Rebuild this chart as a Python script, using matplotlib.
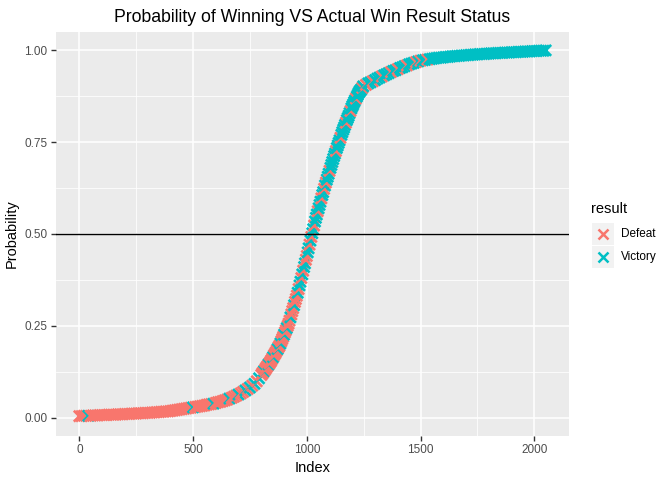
import numpy as np
import matplotlib
matplotlib.use("Agg")
import matplotlib.pyplot as plt
from matplotlib.patches import Rectangle
from matplotlib.lines import Line2D

# Probability of winning, sorted in three stretches
# (flat bottom, steep middle, flat top). Index positions for each stretch.
low_index = np.arange(0, 810, 10)
low_prob = [
    .004, .004, .005, .005, .005, .005, .006, .006, .006, .007,
    .007, .007, .007, .008, .008, .008, .008, .009, .009, .009,
    .010, .010, .010, .011, .011, .011, .012, .012, .012, .013,
    .013, .013, .014, .014, .015, .015, .016, .016, .017, .017,
    .018, .019, .020, .021, .022, .023, .024, .025, .026, .027,
    .028, .029, .030, .031, .032, .033, .035, .036, .037, .038,
    .040, .042, .043, .045, .047, .049, .052, .054, .057, .060,
    .063, .066, .070, .074, .078, .082, .087, .092, .099, .107,
    .116,
]
low_result = ("DDDDVDDDDD" "DDDDDDDDDD" "DDDDDDDDDD" "DDDDDDDDDD" "DDDDDDDDDD"
              "VDDDDDDDDV" "DDDDDDVDDD" "VDDVDVDVDV" "D")

mid_index = np.arange(804, 1252, 4)
mid_prob = [
    .120, .123, .127, .130, .134, .138, .141, .145, .148, .152,
    .156, .161, .165, .170, .174, .178, .183, .187, .192, .196,
    .202, .208, .214, .220, .226, .232, .238, .244, .250, .256,
    .264, .273, .281, .290, .298, .306, .315, .323, .332, .340,
    .350, .360, .370, .380, .390, .400, .410, .420, .430, .440,
    .450, .461, .471, .482, .492, .502, .513, .523, .534, .544,
    .553, .562, .570, .579, .588, .597, .606, .614, .623, .632,
    .640, .648, .656, .664, .672, .680, .688, .696, .704, .712,
    .719, .726, .734, .741, .748, .755, .762, .770, .777, .784,
    .790, .797, .803, .810, .816, .822, .829, .835, .842, .848,
    .853, .859, .864, .869, .874, .879, .884, .888, .891, .894,
    .898, .902,
]
mid_result = ("DDVDDDDVD" "DDDVDDDDVD" "DVDDDVDDVD" "DDVDDDVDDD" "VDVVDVDVVD"
              "DVVDVDVVDV" "VVDVVVDVVD" "VDVVVDVVVV" "VVDVVVVDVV" "VVVDVVVVDV"
              "VVVVDVVVVV" "VDV")

high_index = np.arange(1260, 2060, 10)
high_prob = [
    .906, .910, .913, .916, .919, .923, .926, .929, .932, .935,
    .938, .941, .944, .946, .949, .952, .954, .957, .959, .962,
    .964, .966, .968, .970, .972, .973, .974, .975, .976, .977,
    .978, .979, .980, .980, .981, .982, .982, .983, .984, .984,
    .985, .985, .986, .986, .987, .987, .988, .988, .989, .989,
    .990, .990, .990, .991, .991, .992, .992, .992, .993, .993,
    .993, .994, .994, .994, .995, .995, .995, .996, .996, .996,
    .997, .997, .997, .998, .998, .998, .999, .999, .999, 1.000,
]
high_result = "DVVDVVVDVV" "VDVVDVVVDV" "VVDVDVVDVV" + "V" * 50

categories = ["Defeat", "Victory"]
palette = {"D": "#F8766D", "V": "#00BFC4"}

index = np.concatenate([low_index, mid_index, high_index])
prob = np.array(low_prob + mid_prob + high_prob)
result = low_result + mid_result + high_result
colors = [palette[r] for r in result]

plt.rcParams["font.family"] = ["Liberation Sans", "DejaVu Sans"]
fig = plt.figure(figsize=(6.72, 4.8), dpi=100)
W, H = 672, 480
ax = fig.add_axes([56 / W, 1 - 436 / H, (569 - 56) / W, (436 - 32) / H])
ax.set_facecolor("#EBEBEB")
for s in ax.spines.values():
    s.set_visible(False)

ax.scatter(index, prob, c=colors, marker="x", s=62, linewidths=1.9, zorder=3)
ax.axhline(0.5, color="black", lw=1.0, zorder=4)

xr = index.max() - index.min()
ax.set_xlim(index.min() - 0.05 * xr, index.max() + 0.05 * xr)
ax.set_ylim(-0.05, 1.05)
ax.set_xticks([0, 500, 1000, 1500, 2000])
ax.set_xticks([250, 750, 1250, 1750], minor=True)
ax.set_yticks([0, 0.25, 0.5, 0.75, 1.0])
ax.set_yticks([0.125, 0.375, 0.625, 0.875], minor=True)
ax.set_yticklabels(["0.00", "0.25", "0.50", "0.75", "1.00"])
ax.grid(which="major", color="white", lw=1.1, zorder=0)
ax.grid(which="minor", color="white", lw=0.55, zorder=0)
ax.set_axisbelow(True)
ax.tick_params(which="major", length=3.5, width=1.0, color="#333333",
               labelcolor="#4D4D4D", labelsize=8.45, pad=2.5)
ax.tick_params(which="minor", length=0)

ax.set_xlabel("Index", fontsize=10.56, labelpad=3)
ax.set_ylabel("Probability", fontsize=10.56, labelpad=4)
ax.set_title("Probability of Winning VS Actual Win Result Status",
             fontsize=12.7, pad=7)

# legend drawn by hand, ggplot style
fig.text(591 / W, 1 - 209 / H, "result", fontsize=10.56, va="center", ha="left")
for i, (name, key) in enumerate(zip(categories, ["D", "V"])):
    top = 223 + i * 23
    fig.patches.append(Rectangle((592 / W, 1 - (top + 22) / H), 22 / W, 22 / H,
                                 transform=fig.transFigure, facecolor="#F2F2F2",
                                 edgecolor="none"))
    fig.lines.append(Line2D([603 / W], [1 - (top + 11) / H], transform=fig.transFigure,
                            marker="x", markersize=6.5, markeredgewidth=1.8,
                            color=palette[key], linestyle="none"))
    fig.text(621 / W, 1 - (top + 11) / H, name, fontsize=8.45, va="center", ha="left")

fig.savefig("out.png", dpi=100)
